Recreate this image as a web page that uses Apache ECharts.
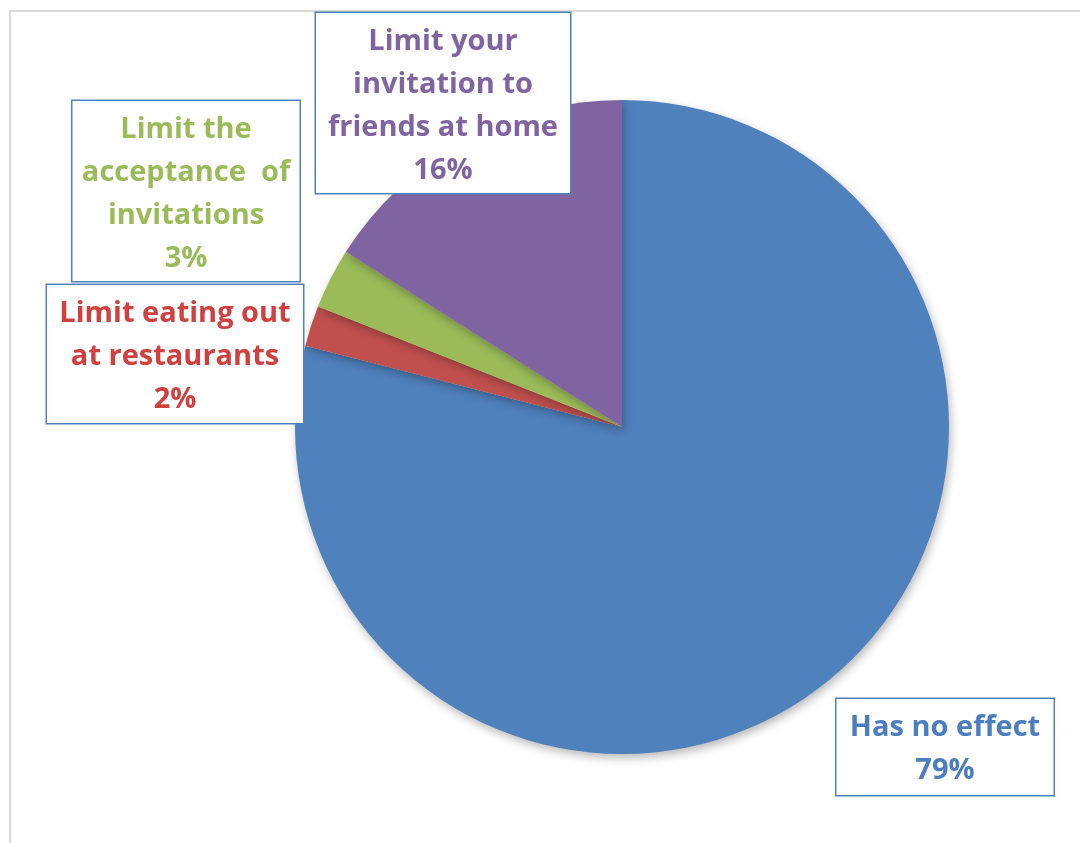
<!DOCTYPE html>
<html>
<head>
<meta charset="utf-8">
<script src="https://cdn.jsdelivr.net/npm/echarts@6/dist/echarts.min.js"></script>
<style>
  html, body { margin: 0; padding: 0; background: #ffffff; }
  #chart { width: 1080px; height: 843px; }
</style>
</head>
<body>
<div id="chart"></div>
<script>
// Survey answers and their shares (percent)
const categories = [
  'Has no effect',
  'Limit eating out\nat restaurants',
  'Limit the\nacceptance  of\ninvitations',
  'Limit your\ninvitation to\nfriends at home'
];
const values = [79, 2, 3, 16];
const sliceColors = ['#4F81BD', '#C0504D', '#9BBB59', '#8064A2'];
const textColors = ['#4A7EC0', '#D0403F', '#9BBB59', '#8064A2'];

// Callout box placement: horizontal centre, top edge and inner size of each box
const boxLayout = [
  { cx: 945, top: 699, w: 201, h: 84 },
  { cx: 175, top: 285, w: 240, h: 126 },
  { cx: 186, top: 101, w: 211, h: 168 },
  { cx: 443, top: 13, w: 238, h: 168 }
];

const chart = echarts.init(document.getElementById('chart'), null, { renderer: 'canvas' });

const data = categories.map((name, i) => ({
  name: name,
  value: values[i],
  itemStyle: { color: sliceColors[i] },
  label: {
    color: textColors[i],
    width: boxLayout[i].w,
    height: boxLayout[i].h
  }
}));

chart.setOption({
  animation: false,
  backgroundColor: '#ffffff',
  graphic: [
    {
      type: 'polyline',
      silent: true,
      z: 0,
      shape: { points: [[10, 843], [10, 11], [1080, 11]] },
      style: { stroke: '#d9d9d9', lineWidth: 2, fill: null }
    }
  ],
  series: [
    {
      type: 'pie',
      center: [622, 427],
      radius: [0, 327],
      startAngle: 90,
      clockwise: true,
      data: data,
      itemStyle: {
        borderWidth: 0,
        shadowBlur: 10,
        shadowOffsetX: 2,
        shadowOffsetY: 4,
        shadowColor: 'rgba(0,0,0,0.28)'
      },
      emphasis: { disabled: true },
      labelLine: { show: false },
      label: {
        show: true,
        position: 'outside',
        formatter: '{b}\n{c}%',
        fontFamily: '"Open Sans", Lato, sans-serif',
        fontWeight: 'bold',
        fontSize: 29,
        lineHeight: 43,
        align: 'center',
        verticalAlign: 'top',
        backgroundColor: '#ffffff',
        borderColor: '#4F81BD',
        borderWidth: 1.5,
        padding: [7, 8, 5, 8]
      },
      labelLayout: function (params) {
        const b = boxLayout[params.dataIndex];
        return {
          x: b.cx,
          y: b.top,
          align: 'center',
          verticalAlign: 'top',
          hideOverlap: false,
          moveOverlap: null
        };
      }
    }
  ]
});
</script>
</body>
</html>
